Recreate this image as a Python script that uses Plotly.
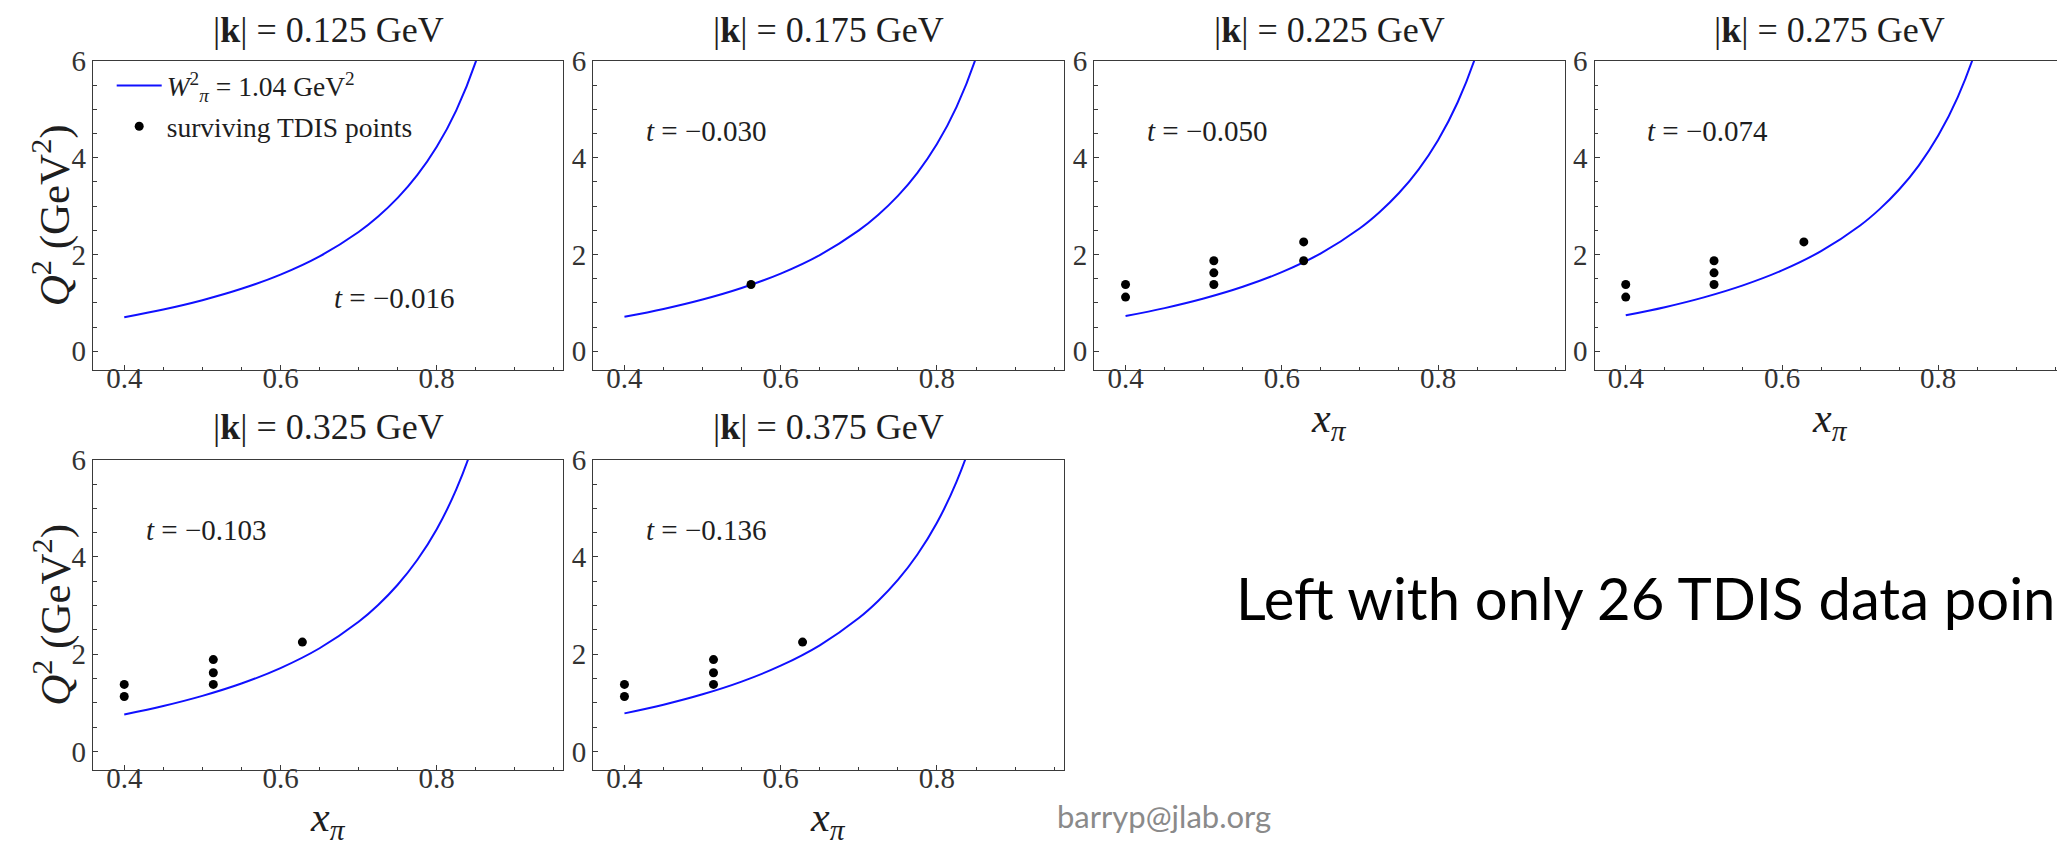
import plotly.graph_objects as go

W, H = 2057, 845

# panel labels
k_values = ["0.125", "0.175", "0.225", "0.275", "0.325", "0.375"]
t_values = ["−0.016", "−0.030", "−0.050", "−0.074", "−0.103", "−0.136"]

# W_pi^2 = 1.04 GeV^2 kinematic boundary, one curve per |k| bin
xpi_curve = [0.40, 0.45, 0.50, 0.55, 0.60, 0.65, 0.70, 0.725, 0.75, 0.775, 0.80, 0.825, 0.85, 0.875]
q2_curve_k125 = [0.704, 0.864, 1.056, 1.291, 1.584, 1.961, 2.464, 2.784, 3.168, 3.637, 4.224, 4.978, 5.984, 7.392]
q2_curve_k175 = [0.713, 0.875, 1.070, 1.308, 1.605, 1.987, 2.497, 2.821, 3.210, 3.686, 4.280, 5.044, 6.063, 7.490]
q2_curve_k225 = [0.727, 0.892, 1.090, 1.332, 1.635, 2.024, 2.543, 2.874, 3.270, 3.754, 4.360, 5.139, 6.177, 7.630]
q2_curve_k275 = [0.743, 0.911, 1.114, 1.362, 1.671, 2.069, 2.599, 2.937, 3.342, 3.837, 4.456, 5.252, 6.313, 7.798]
q2_curve_k325 = [0.762, 0.935, 1.143, 1.397, 1.715, 2.123, 2.667, 3.013, 3.429, 3.937, 4.572, 5.389, 6.477, 8.001]
q2_curve_k375 = [0.784, 0.962, 1.176, 1.437, 1.764, 2.184, 2.744, 3.100, 3.528, 4.051, 4.704, 5.544, 6.664, 8.232]
q2_curves = [q2_curve_k125, q2_curve_k175, q2_curve_k225, q2_curve_k275, q2_curve_k325, q2_curve_k375]

# surviving TDIS points per |k| bin
tdis_x_k125 = []
tdis_q2_k125 = []
tdis_x_k175 = [0.562]
tdis_q2_k175 = [1.38]
tdis_x_k225 = [0.40, 0.40, 0.513, 0.513, 0.513, 0.628, 0.628]
tdis_q2_k225 = [1.12, 1.38, 1.38, 1.62, 1.87, 1.87, 2.26]
tdis_x_k275 = [0.40, 0.40, 0.513, 0.513, 0.513, 0.628]
tdis_q2_k275 = [1.12, 1.38, 1.38, 1.62, 1.87, 2.26]
tdis_x_k325 = [0.40, 0.40, 0.514, 0.514, 0.514, 0.628]
tdis_q2_k325 = [1.13, 1.38, 1.38, 1.62, 1.89, 2.25]
tdis_x_k375 = [0.40, 0.40, 0.514, 0.514, 0.514, 0.628]
tdis_q2_k375 = [1.13, 1.38, 1.38, 1.62, 1.89, 2.25]
tdis_x = [tdis_x_k125, tdis_x_k175, tdis_x_k225, tdis_x_k275, tdis_x_k325, tdis_x_k375]
tdis_q2 = [tdis_q2_k125, tdis_q2_k175, tdis_q2_k225, tdis_q2_k275, tdis_q2_k325, tdis_q2_k375]

# where the t label sits in each panel (data coordinates)
t_label_x = [0.746, 0.505, 0.505, 0.505, 0.505, 0.505]
t_label_y = [0.85, 4.3, 4.3, 4.3, 4.3, 4.3]

# ---- layout geometry (pixels) ----
col_left = [93.0, 593.2, 1094.3, 1594.5, 93.0, 593.2]
panel_w = 470.3
row_top = [45.7] * 4 + [452.3] * 2
row_bot = [361.0] * 4 + [769.0] * 2
X0, X1 = 0.36, 0.962
px_per_unit = panel_w / (X1 - X0)
Y0, Y1 = -0.39, 6.0001

SERIF = "Liberation Serif"
AX = "#3a3a3a"
TXT = "#1e1e1e"
TEXT_LIFT = 12  # raises serif labels so glyph centres sit on their anchor

fig = go.Figure()

for i in range(6):
    xa = "x" if i == 0 else f"x{i+1}"
    ya = "y" if i == 0 else f"y{i+1}"
    fig.add_trace(go.Scatter(
        x=xpi_curve, y=q2_curves[i], mode="lines",
        line=dict(color="#1010ff", width=2, shape="spline"),
        xaxis=xa, yaxis=ya, legendgroup="curve",
        name="<i>W</i><sup>2</sup><sub><i>π</i></sub> = 1.04 GeV<sup>2</sup>",
        showlegend=(i == 0), hoverinfo="skip"))
    fig.add_trace(go.Scatter(
        x=tdis_x[i], y=tdis_q2[i], mode="markers",
        marker=dict(color="black", size=9),
        xaxis=xa, yaxis=ya, legendgroup="pts",
        name="surviving TDIS points",
        showlegend=(i == 1), hoverinfo="skip"))

layout = {}
annotations = []
for i in range(6):
    xkey = "xaxis" if i == 0 else f"xaxis{i+1}"
    ykey = "yaxis" if i == 0 else f"yaxis{i+1}"
    xa = "x" if i == 0 else f"x{i+1}"
    ya = "y" if i == 0 else f"y{i+1}"
    left_px = col_left[i]
    right_px = min(left_px + panel_w, W)
    x_hi = X0 + (right_px - left_px) / px_per_unit
    layout[xkey] = dict(
        domain=[left_px / W, right_px / W], range=[X0, x_hi], anchor=ya,
        showline=True, mirror=True, linecolor=AX, linewidth=1.3,
        ticks="inside", ticklen=5, tickwidth=1.2, tickcolor=AX,
        tick0=0.4, dtick=0.2, ticklabelstandoff=-18,
        minor=dict(ticks="inside", tick0=0.4, dtick=0.05, ticklen=3.5, tickwidth=1, tickcolor=AX),
        showgrid=False, zeroline=False,
        tickfont=dict(family=SERIF, size=29, color="#333333"),
        fixedrange=True)
    layout[ykey] = dict(
        domain=[1 - row_bot[i] / H, 1 - row_top[i] / H], range=[Y0, Y1], anchor=xa,
        showline=True, mirror=(i != 3), linecolor=AX, linewidth=1.3,
        ticks="inside", ticklen=5, tickwidth=1.2, tickcolor=AX,
        tick0=0, dtick=2,
        minor=dict(ticks="inside", tick0=0, dtick=0.5, ticklen=3.5, tickwidth=1, tickcolor=AX),
        showgrid=False, zeroline=False,
        tickfont=dict(family=SERIF, size=29, color="#333333"),
        fixedrange=True)

    centre_px = left_px + panel_w / 2
    title_y = 26 if i < 4 else 431
    annotations.append(dict(
        text=f"|<b>k</b>| = {k_values[i]} GeV", xref="paper", yref="paper",
        x=centre_px / W, y=1 - title_y / H, xanchor="center", yanchor="middle",
        yshift=TEXT_LIFT,
        showarrow=False, font=dict(family=SERIF, size=36, color=TXT)))
    annotations.append(dict(
        text=f"<i>t</i> = {t_values[i]}", xref=xa, yref=ya,
        x=t_label_x[i], y=t_label_y[i], xanchor="center", yanchor="middle",
        yshift=TEXT_LIFT,
        showarrow=False, font=dict(family=SERIF, size=29, color=TXT)))
    if i >= 2:
        xt_y = 413 if i < 4 else 820
        annotations.append(dict(
            text="<i>x</i><sub><i>π</i></sub>", xref="paper", yref="paper",
            x=centre_px / W, y=1 - xt_y / H, xanchor="center", yanchor="middle",
            showarrow=False, font=dict(family=SERIF, size=42, color=TXT)))
    if i in (0, 4):
        annotations.append(dict(
            text="<i>Q</i><sup>2</sup> (GeV<sup>2</sup>)", xref="paper", yref="paper",
            x=51.7 / W, y=1 - (row_top[i] + row_bot[i]) / 2 / H,
            xanchor="center", yanchor="middle", textangle=-90,
            showarrow=False, font=dict(family=SERIF, size=43, color=TXT)))

annotations.append(dict(
    text="Left with only 26 TDIS data poin", xref="paper", yref="paper",
    x=1234 / W, y=1 - 593 / H, xanchor="left", yanchor="middle",
    showarrow=False, font=dict(family="Lato", size=58, color="#000000")))
annotations.append(dict(
    text="barryp@jlab.org", xref="paper", yref="paper",
    x=1055 / W, y=1 - 815 / H, xanchor="left", yanchor="middle",
    showarrow=False, font=dict(family="Lato", size=31, color="#8a8a8a")))

fig.update_layout(
    **layout,
    annotations=annotations,
    width=W, height=H, autosize=False,
    margin=dict(l=0, r=0, t=0, b=0),
    paper_bgcolor="white", plot_bgcolor="white",
    showlegend=True,
    legend=dict(
        x=111.7 / W, y=1 - 46 / H, xanchor="left", yanchor="top",
        bgcolor="rgba(0,0,0,0)", borderwidth=0,
        font=dict(family=SERIF, size=27.5, color=TXT),
        itemwidth=45, traceorder="grouped", tracegroupgap=2),
)

fig.write_html("out.html", config={"displayModeBar": False})
